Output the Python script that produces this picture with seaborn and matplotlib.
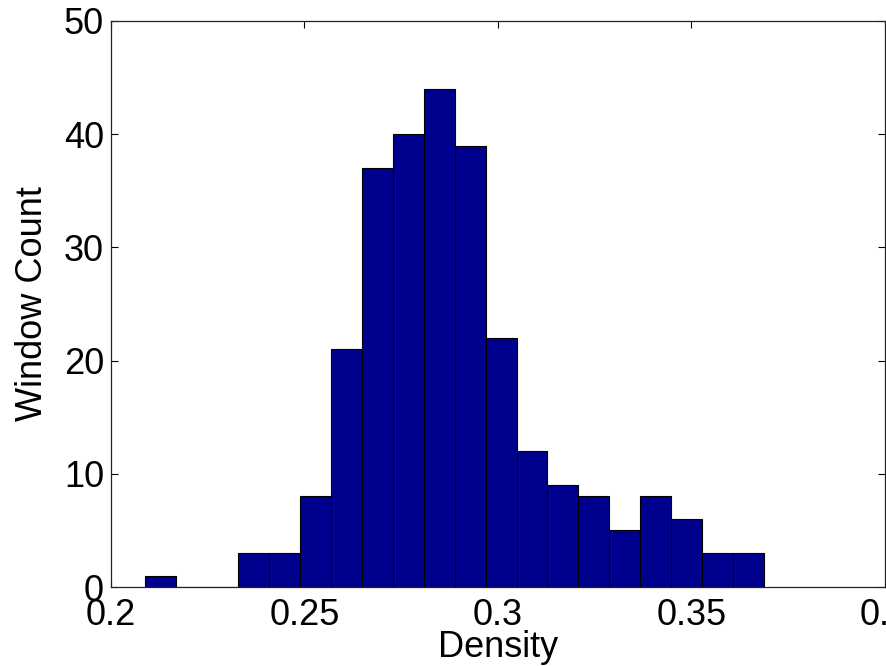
import numpy as np
import pandas as pd
import matplotlib
matplotlib.use("Agg")
import matplotlib.pyplot as plt
import seaborn as sns

# histogram counts (20 bins)
counts = [1, 0, 0, 3, 3, 8, 21, 37, 40, 44, 39, 22, 12, 9, 8, 5, 8, 6, 3, 3]
bin_start = 0.2088
bin_width = 0.0080
x_ticks = [0.2, 0.25, 0.3, 0.35, 0.4]
x_tick_labels = ["0.2", "0.25", "0.3", "0.35", "0.4"]
y_ticks = [0, 10, 20, 30, 40, 50]

edges = [bin_start + bin_width * i for i in range(len(counts) + 1)]
centers = [(edges[i] + edges[i + 1]) / 2 for i in range(len(counts))]
df = pd.DataFrame({"density": centers, "count": counts})

sns.set_theme(style="ticks")
plt.rcParams['font.family'] = ['Liberation Sans', 'DejaVu Sans']
plt.rcParams['text.color'] = 'black'
plt.rcParams['axes.labelcolor'] = 'black'

fig = plt.figure(figsize=(8.87, 6.66), dpi=100)
ax = fig.add_axes([0.1251, 0.1186, 0.8726, 0.8499])

sns.histplot(data=df, x="density", weights="count", bins=edges, color="#00008F",
             edgecolor="black", linewidth=0.8, alpha=1, ax=ax)

ax.set_xlim(0.2, 0.4)
ax.set_ylim(0, 50)
ax.set_xticks(x_ticks)
ax.set_xticklabels(x_tick_labels)
ax.set_yticks(y_ticks)
ax.set_xlabel("Density", fontsize=26, labelpad=-2)
ax.set_ylabel("Window Count", fontsize=26, labelpad=10)
ax.tick_params(direction="in", length=5, width=0.8, labelsize=26, pad=5,
               top=True, right=True, colors="black")
ax.tick_params(axis="x", pad=8)
for s in ax.spines.values():
    s.set_visible(True)
    s.set_linewidth(0.9)
    s.set_color("#222222")

fig.savefig("out.png", dpi=100)
